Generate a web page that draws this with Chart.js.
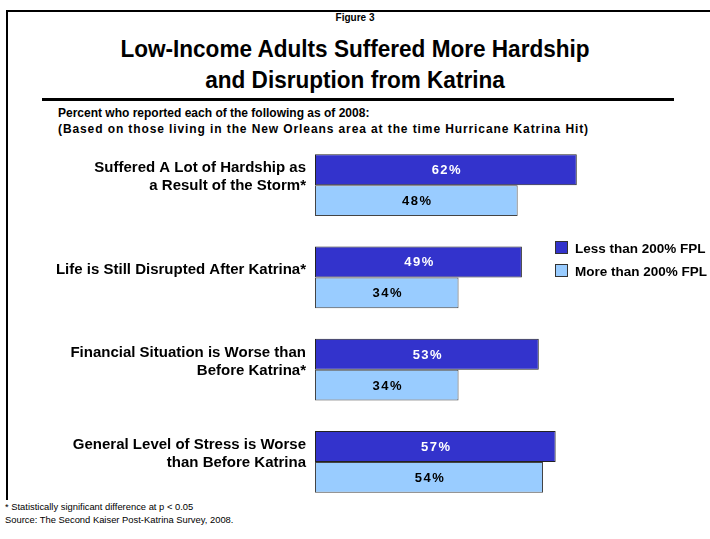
<!DOCTYPE html>
<html>
<head>
<meta charset="utf-8">
<script src="https://cdn.jsdelivr.net/npm/chart.js@4/dist/chart.umd.min.js"></script>
<style>
  body { margin: 0; width: 710px; height: 539px; background: #fff; position: relative; overflow: hidden;
         font-family: "Liberation Sans", Arial, sans-serif; color: #000; }
  #frame { position: absolute; left: 6px; top: 10px; width: 760px; height: 600px;
           border-left: 2px solid #000; border-top: 2px solid #000; }
  #fig { position: absolute; left: 0; width: 710px; top: 12px; text-align: center; font-size: 10px; font-weight: bold; }
  #title { position: absolute; left: 0; width: 710px; top: 33px; text-align: center; font-size: 24px;
           font-weight: bold; line-height: 31px; transform: scaleX(0.94); }
  #rule { position: absolute; left: 42px; width: 632px; top: 98px; height: 3px; background: #000; }
  #sub { position: absolute; left: 58px; top: 105px; font-size: 12px; font-weight: bold; line-height: 16px; white-space: nowrap; }
  #sub .l2 { letter-spacing: 0.9px; }
  #wrap { position: absolute; left: 0; top: 139px; width: 710px; height: 369px; }
  #legend { position: absolute; left: 555px; top: 241px; font-size: 13.5px; font-weight: bold; }
  #legend div { height: 23px; line-height: 14px; white-space: nowrap; }
  #legend span { display: inline-block; width: 11px; height: 11px; border: 1px solid #333;
                 vertical-align: -1px; margin-right: 7px; }
  #notes { position: absolute; left: 0; top: 500px; width: 300px; height: 39px; padding-left: 5px; background: #fff;
           font-size: 9.4px; line-height: 13px; }
</style>
</head>
<body>
<div id="frame"></div>
<div id="fig">Figure 3</div>
<div id="title">Low-Income Adults Suffered More Hardship<br>and Disruption from Katrina</div>
<div id="rule"></div>
<div id="sub">Percent who reported each of the following as of 2008:<br><span class="l2">(Based on those living in the New Orleans area at the time Hurricane Katrina Hit)</span></div>
<div id="wrap"><canvas id="chart" width="710" height="369"></canvas></div>
<div id="legend"></div>
<div id="notes">* Statistically significant difference at p &lt; 0.05<br>Source: The Second Kaiser Post-Katrina Survey, 2008.</div>
<script>
// survey items and results (percent)
var categories = [
    ['Suffered A Lot of Hardship as', 'a Result of the Storm*'],
    ['Life is Still Disrupted After Katrina*'],
    ['Financial Situation is Worse than', 'Before Katrina*'],
    ['General Level of Stress is Worse', 'than Before Katrina']
]
var seriesNames = ['Less than 200% FPL', 'More than 200% FPL']
var lowIncome = [62, 49, 53, 57]
var higherIncome = [48, 34, 34, 54]
var colors = ['#3333CC', '#99CCFF']
var labelColors = ['#fff', '#000']

// percent labels in the middle of each bar
var valueLabels = {
    id: 'valueLabels',
    afterDatasetsDraw: function (chart) {
        var ctx = chart.ctx
        ctx.save()
        ctx.font = 'bold 13px "Liberation Sans", Arial, sans-serif'
        ctx.letterSpacing = '1.5px'
        ctx.textAlign = 'center'
        ctx.textBaseline = 'middle'
        chart.data.datasets.forEach(function (ds, i) {
            chart.getDatasetMeta(i).data.forEach(function (bar, j) {
                ctx.fillStyle = labelColors[i]
                ctx.fillText(ds.data[j] + '%', (bar.base + bar.x) / 2 + 1, bar.y + 1)
            })
        })
        ctx.restore()
    }
}

var ctx = document.getElementById('chart').getContext('2d')
var myChart = new Chart(ctx, {
    type: 'bar',
    data: {
        labels: categories,
        datasets: [{
            label: seriesNames[0],
            data: lowIncome,
            backgroundColor: colors[0],
            borderColor: '#222',
            borderWidth: 1,
            borderSkipped: false
        }, {
            label: seriesNames[1],
            data: higherIncome,
            backgroundColor: colors[1],
            borderColor: '#444',
            borderWidth: 1,
            borderSkipped: false
        }]
    },
    options: {
        indexAxis: 'y',
        responsive: false,
        animation: false,
        layout: { padding: { left: 0, right: 15, top: 0, bottom: 0 } },
        datasets: { bar: { categoryPercentage: 0.672, barPercentage: 1.0 } },
        scales: {
            x: { display: false, min: 0, max: 90 },
            y: {
                grid: { display: false, drawTicks: false },
                border: { display: false },
                ticks: {
                    color: '#000',
                    padding: 9,
                    labelOffset: -8,
                    font: { family: '"Liberation Sans", Arial, sans-serif', size: 15, weight: 'bold', lineHeight: 1.2 }
                },
                afterFit: function (scale) {
                    // fixed label column, and no extra room for the two-line labels
                    scale.width = 315
                    scale.paddingTop = 0
                    scale.paddingBottom = 0
                }
            }
        },
        plugins: {
            legend: { display: false },
            tooltip: { enabled: false }
        }
    },
    plugins: [valueLabels]
})

// legend built from the dataset colours
var legend = document.getElementById('legend')
myChart.data.datasets.forEach(function (ds) {
    var row = document.createElement('div')
    row.innerHTML = '<span style="background:' + ds.backgroundColor + '"></span>' + ds.label
    legend.appendChild(row)
})
</script>
</body>
</html>
